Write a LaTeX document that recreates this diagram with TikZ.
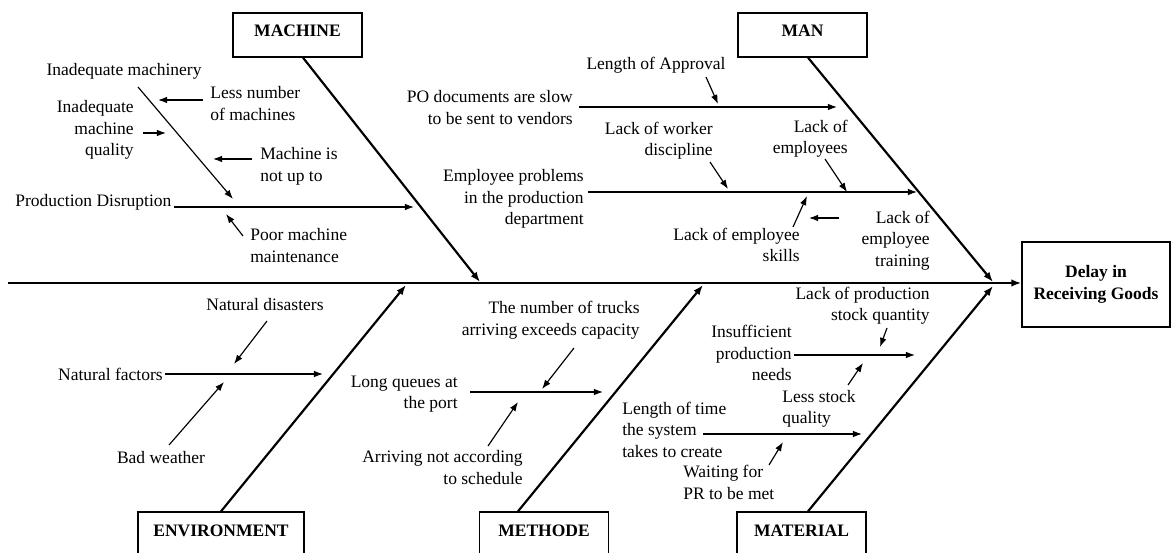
\documentclass[tikz,border=0pt]{standalone}
\usepackage{fontspec}
\setmainfont{Liberation Serif}
\usetikzlibrary{arrows.meta}
\newcommand{\diagfont}{\fontsize{10.5}{12.9}\selectfont}
\newcommand{\widthcat}{77.4pt}
\newcommand{\widthenv}{99.6pt}
\newcommand{\heightcat}{26.4pt}
\tikzset{
    common/.style={draw, rectangle, line width=0.8pt, inner sep=2pt, font=\diagfont\bfseries},
    category/.style={common, minimum width=\widthcat, minimum height=\heightcat, text height=7pt, text depth=4.6pt},
    effect/.style={common, minimum width=88.8pt, minimum height=51pt, align=center},
    cause/.style={inner sep=0pt},
    bone/.style={line width=1.3pt, -{Latex[length=6pt, width=4.5pt]}},
    twig/.style={line width=0.7pt, -{Latex[length=5.5pt, width=4pt]}}
}

\begin{document}
\begin{tikzpicture}[x=0.6pt, y=-0.6pt, font=\diagfont]
            \clip (0,0) rectangle (1172,553);

            % head and categories
            \node[effect] (effect) at (1096,284.5) {Delay in\\Receiving Goods};
            \node[category] (machine) at (297.5,35) {MACHINE};
            \node[category] (man) at (802.5,35) {MAN};
            \node[category, minimum width=\widthenv] (environment) at (221,534) {ENVIRONMENT};
            \node[category] (methode) at (544,534) {METHODE};
            \node[category] (material) at (801.5,534) {MATERIAL};

            \coordinate (tail) at (8,283);
            \coordinate (jmachine) at (480,282);
            \coordinate (jman) at (993,282);
            \coordinate (jenv) at (406,285);
            \coordinate (jmethode) at (703,285);
            \coordinate (jmaterial) at (993,286);

            \draw[bone] (tail) -- (effect.west |- tail);
            \draw[bone] ([xshift=3.3pt]machine.south) -- (jmachine);
            \draw[bone] ([xshift=3.3pt]man.south) -- (jman);
            \draw[bone] (environment.north) -- (jenv);
            \draw[bone] ([xshift=-15.6pt]methode.north) -- (jmethode);
            \draw[bone] ([xshift=3.9pt]material.north) -- (jmaterial);

            % machine
            \node[cause] (machinery) at (124,71) {Inadequate machinery};
            \node[cause, anchor=west, align=left] (lessnum) at (210,103.5) {Less number\\of machines};
            \node[cause, anchor=east, align=right] (quality) at (134,130) {Inadequate\\machine\\quality};
            \node[cause, anchor=west, align=left] (notup) at (260,166.5) {Machine is\\not up to};
            \node[cause, anchor=west] (disruption) at (15,202) {Production Disruption};
            \node[cause, anchor=west, align=left] (maint) at (250,245.5) {Poor machine\\maintenance};

            \coordinate (a0) at (138,87);   \coordinate (a1) at (233,199);
            \coordinate (b0) at (203,100);  \coordinate (b1) at (158,100);
            \coordinate (c0) at (143,133);  \coordinate (c1) at (166,133);
            \coordinate (d0) at (252,159);  \coordinate (d1) at (213,159);
            \coordinate (e0) at (174,207);  \coordinate (e1) at (414,207);
            \coordinate (f0) at (243,236);  \coordinate (f1) at (226,214);

            \draw[twig] (a0) -- (a1);
            \draw[twig] (b0) -- (b1);
            \draw[twig] (c0) -- (c1);
            \draw[twig] (d0) -- (d1);
            \draw[twig] (e0) -- (e1);
            \draw[twig] (f0) -- (f1);

            % man
            \node[cause] (approval) at (656,65) {Length of Approval};
            \node[cause, anchor=east, align=right] (po) at (573,107.5) {PO documents are slow\\to be sent to vendors};
            \node[cause, anchor=east, align=right] (discipline) at (713,140.5) {Lack of worker\\discipline};
            \node[cause, anchor=east, align=right] (production) at (584,199) {Employee problems\\in the production\\department};
            \node[cause, anchor=east, align=right] (employees) at (848,138.5) {Lack of\\employees};
            \node[cause, anchor=east, align=right] (skills) at (800,245) {Lack of employee\\skills};
            \node[cause, anchor=east, align=right] (training) at (930,240.5) {Lack of\\employee\\training};

            \coordinate (g0) at (706,77);   \coordinate (g1) at (718,104);
            \coordinate (h0) at (579,107);  \coordinate (h1) at (837,107);
            \coordinate (i0) at (710,162);  \coordinate (i1) at (728,189);
            \coordinate (j0) at (588,192);  \coordinate (j1) at (917,192);
            \coordinate (k0) at (825,159);  \coordinate (k1) at (847,192);
            \coordinate (l0) at (793,227);  \coordinate (l1) at (807,196);
            \coordinate (m0) at (839,218);  \coordinate (m1) at (809,218);

            \draw[twig] (g0) -- (g1);
            \draw[twig] (h0) -- (h1);
            \draw[twig] (i0) -- (i1);
            \draw[twig] (j0) -- (j1);
            \draw[twig] (k0) -- (k1);
            \draw[twig] (l0) -- (l1);
            \draw[twig] (m0) -- (m1);

            % environment
            \node[cause, anchor=east] (natural) at (163,374) {Natural factors};
            \node[cause] (disasters) at (265,305) {Natural disasters};
            \node[cause] (weather) at (161,458) {Bad weather};

            \coordinate (n0) at (165,374);  \coordinate (n1) at (323,374);
            \coordinate (o0) at (267,321);  \coordinate (o1) at (234,364);
            \coordinate (p0) at (169,445);  \coordinate (p1) at (224,382);

            \draw[twig] (n0) -- (n1);
            \draw[twig] (o0) -- (o1);
            \draw[twig] (p0) -- (p1);

            % methode
            \node[cause, anchor=east, align=right] (queues) at (458,394) {Long queues at\\the port};
            \node[cause, anchor=east, align=right] (trucks) at (640,320) {The number of trucks\\arriving exceeds capacity};
            \node[cause, anchor=east, align=right] (schedule) at (523,467.5) {Arriving not according\\to schedule};

            \coordinate (q0) at (470,392);  \coordinate (q1) at (603,392);
            \coordinate (r0) at (574,348);  \coordinate (r1) at (542,389);
            \coordinate (s0) at (488,446);  \coordinate (s1) at (518,402);

            \draw[twig] (q0) -- (q1);
            \draw[twig] (r0) -- (r1);
            \draw[twig] (s0) -- (s1);

            % material
            \node[cause, anchor=east, align=right] (needs) at (792,353) {Insufficient\\production\\needs};
            \node[cause, anchor=east, align=right] (stockqty) at (930,305.5) {Lack of production\\stock quantity};
            \node[cause, anchor=west, align=left] (stockqual) at (782,409) {Less stock\\quality};
            \node[cause, anchor=west, align=left] (system) at (622,429.5) {Length of time\\the system\\takes to create};
            \node[cause, anchor=west, align=left] (waiting) at (683,482.5) {Waiting for\\PR to be met};

            \coordinate (t0) at (794,355);  \coordinate (t1) at (915,355);
            \coordinate (u0) at (887,328);  \coordinate (u1) at (880,347);
            \coordinate (v0) at (848,385);  \coordinate (v1) at (863,363);
            \coordinate (w0) at (703,434);  \coordinate (w1) at (862,434);
            \coordinate (x0) at (769,465);  \coordinate (x1) at (783,442);

            \draw[twig] (t0) -- (t1);
            \draw[twig] (u0) -- (u1);
            \draw[twig] (v0) -- (v1);
            \draw[twig] (w0) -- (w1);
            \draw[twig] (x0) -- (x1);
\end{tikzpicture}
\end{document}
